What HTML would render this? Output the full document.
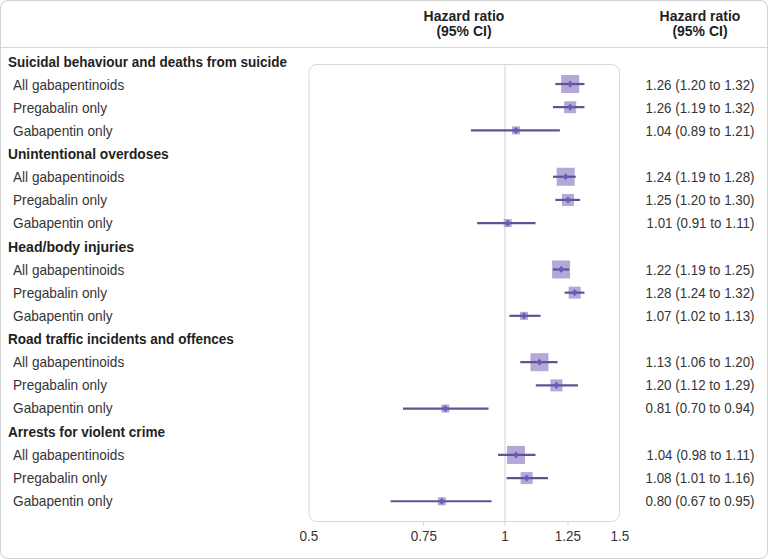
<!DOCTYPE html>
<html><head><meta charset="utf-8"><style>
html,body{margin:0;padding:0;background:#fff;}
body{width:768px;height:559px;position:relative;overflow:hidden;font-family:"Liberation Sans",sans-serif;color:#1f1f1f;}
.frame{position:absolute;left:0;top:0;width:766px;height:557px;border:1px solid #d4d4d4;border-bottom-color:#d0d0d4;border-radius:8px;}
.hdrline{position:absolute;left:1px;top:47px;width:766px;height:1px;background:#d8d8d8;}
.hd{position:absolute;top:9px;width:120px;text-align:center;font-weight:bold;font-size:14.5px;line-height:15px;transform:scaleX(0.964);}
.h{position:absolute;left:7.5px;font-weight:bold;font-size:14.5px;line-height:20px;white-space:nowrap;transform:scaleX(0.934);transform-origin:0 0;}
.s{position:absolute;left:13px;color:#353535;font-size:14.5px;line-height:20px;white-space:nowrap;transform:scaleX(0.94);transform-origin:0 0;}
.ci{position:absolute;right:13.5px;color:#353535;font-size:14.5px;line-height:20px;white-space:nowrap;text-align:right;transform:scaleX(0.919);transform-origin:100% 0;}
.tk{position:absolute;top:526px;color:#353535;width:60px;text-align:center;font-size:14.5px;line-height:20px;transform:scaleX(0.93);}
svg{position:absolute;left:0;top:0;}
</style></head><body>
<div class="frame"></div>
<div class="hdrline"></div>
<div class="hd" style="left:404px">Hazard ratio<br>(95% CI)</div>
<div class="hd" style="left:640px">Hazard ratio<br>(95% CI)</div>
<svg width="768" height="559" viewBox="0 0 768 559">
<rect x="309" y="64.5" width="310.5" height="457" rx="8" ry="8" fill="none" stroke="#d8d8d8" stroke-width="1"/>
<line x1="505" y1="65" x2="505" y2="521" stroke="#d0d0d0" stroke-width="1"/>
<line x1="423.60" y1="521" x2="423.60" y2="526" stroke="#d8d8d8" stroke-width="1"/><line x1="504.90" y1="521" x2="504.90" y2="526" stroke="#d8d8d8" stroke-width="1"/><line x1="567.97" y1="521" x2="567.97" y2="526" stroke="#d8d8d8" stroke-width="1"/>
<rect x="561.22" y="75.03" width="18" height="18" fill="#b3a8d7"/><line x1="556.43" y1="84.03" x2="583.37" y2="84.03" stroke="#5f5492" stroke-width="2.2" stroke-linecap="square"/><path d="M567.22 84.03 L570.22 80.43 L573.22 84.03 L570.22 87.63 Z" fill="#6b5bbb"/><rect x="564.22" y="101.21" width="12" height="12" fill="#b3a8d7"/><line x1="554.07" y1="107.21" x2="583.37" y2="107.21" stroke="#5f5492" stroke-width="2.2" stroke-linecap="square"/><path d="M567.22 107.21 L570.22 103.61 L573.22 107.21 L570.22 110.81 Z" fill="#6b5bbb"/><rect x="511.99" y="126.39" width="8" height="8" fill="#b3a8d7"/><line x1="471.97" y1="130.39" x2="558.78" y2="130.39" stroke="#5f5492" stroke-width="2.2" stroke-linecap="square"/><path d="M512.99 130.39 L515.99 126.79 L518.99 130.39 L515.99 133.99 Z" fill="#6b5bbb"/><rect x="556.70" y="167.75" width="18" height="18" fill="#b3a8d7"/><line x1="554.07" y1="176.75" x2="574.67" y2="176.75" stroke="#5f5492" stroke-width="2.2" stroke-linecap="square"/><path d="M562.70 176.75 L565.70 173.15 L568.70 176.75 L565.70 180.35 Z" fill="#6b5bbb"/><rect x="561.97" y="193.93" width="12" height="12" fill="#b3a8d7"/><line x1="556.43" y1="199.93" x2="579.06" y2="199.93" stroke="#5f5492" stroke-width="2.2" stroke-linecap="square"/><path d="M564.97 199.93 L567.97 196.33 L570.97 199.93 L567.97 203.53 Z" fill="#6b5bbb"/><rect x="503.72" y="219.11" width="8" height="8" fill="#b3a8d7"/><line x1="478.25" y1="223.11" x2="534.40" y2="223.11" stroke="#5f5492" stroke-width="2.2" stroke-linecap="square"/><path d="M504.72 223.11 L507.72 219.51 L510.72 223.11 L507.72 226.71 Z" fill="#6b5bbb"/><rect x="552.10" y="260.47" width="18" height="18" fill="#b3a8d7"/><line x1="554.07" y1="269.47" x2="567.97" y2="269.47" stroke="#5f5492" stroke-width="2.2" stroke-linecap="square"/><path d="M558.10 269.47 L561.10 265.87 L564.10 269.47 L561.10 273.07 Z" fill="#6b5bbb"/><rect x="568.67" y="286.65" width="12" height="12" fill="#b3a8d7"/><line x1="565.70" y1="292.65" x2="583.37" y2="292.65" stroke="#5f5492" stroke-width="2.2" stroke-linecap="square"/><path d="M571.67 292.65 L574.67 289.05 L577.67 292.65 L574.67 296.25 Z" fill="#6b5bbb"/><rect x="520.03" y="311.83" width="8" height="8" fill="#b3a8d7"/><line x1="510.50" y1="315.83" x2="539.45" y2="315.83" stroke="#5f5492" stroke-width="2.2" stroke-linecap="square"/><path d="M521.03 315.83 L524.03 312.23 L527.03 315.83 L524.03 319.43 Z" fill="#6b5bbb"/><rect x="530.45" y="353.19" width="18" height="18" fill="#b3a8d7"/><line x1="521.37" y1="362.19" x2="556.43" y2="362.19" stroke="#5f5492" stroke-width="2.2" stroke-linecap="square"/><path d="M536.45 362.19 L539.45 358.59 L542.45 362.19 L539.45 365.79 Z" fill="#6b5bbb"/><rect x="550.43" y="379.37" width="12" height="12" fill="#b3a8d7"/><line x1="536.93" y1="385.37" x2="576.87" y2="385.37" stroke="#5f5492" stroke-width="2.2" stroke-linecap="square"/><path d="M553.43 385.37 L556.43 381.77 L559.43 385.37 L556.43 388.97 Z" fill="#6b5bbb"/><rect x="441.35" y="404.55" width="8" height="8" fill="#b3a8d7"/><line x1="404.10" y1="408.55" x2="487.42" y2="408.55" stroke="#5f5492" stroke-width="2.2" stroke-linecap="square"/><path d="M442.35 408.55 L445.35 404.95 L448.35 408.55 L445.35 412.15 Z" fill="#6b5bbb"/><rect x="506.99" y="445.91" width="18" height="18" fill="#b3a8d7"/><line x1="499.19" y1="454.91" x2="534.40" y2="454.91" stroke="#5f5492" stroke-width="2.2" stroke-linecap="square"/><path d="M512.99 454.91 L515.99 451.31 L518.99 454.91 L515.99 458.51 Z" fill="#6b5bbb"/><rect x="520.66" y="472.09" width="12" height="12" fill="#b3a8d7"/><line x1="507.72" y1="478.09" x2="546.85" y2="478.09" stroke="#5f5492" stroke-width="2.2" stroke-linecap="square"/><path d="M523.66 478.09 L526.66 474.49 L529.66 478.09 L526.66 481.69 Z" fill="#6b5bbb"/><rect x="437.84" y="497.27" width="8" height="8" fill="#b3a8d7"/><line x1="391.72" y1="501.27" x2="490.41" y2="501.27" stroke="#5f5492" stroke-width="2.2" stroke-linecap="square"/><path d="M438.84 501.27 L441.84 497.67 L444.84 501.27 L441.84 504.87 Z" fill="#6b5bbb"/>
</svg>
<div class="h" style="top:51.65px;transform:scaleX(0.9307)">Suicidal behaviour and deaths from suicide</div><div class="s" style="top:74.77px;transform:scaleX(0.9383)">All gabapentinoids</div><div class="ci" style="top:74.77px">1.26 (1.20 to 1.32)</div><div class="s" style="top:97.89px;transform:scaleX(0.9400)">Pregabalin only</div><div class="ci" style="top:97.89px">1.26 (1.19 to 1.32)</div><div class="s" style="top:121.01px;transform:scaleX(0.9429)">Gabapentin only</div><div class="ci" style="top:121.01px">1.04 (0.89 to 1.21)</div><div class="h" style="top:144.13px;transform:scaleX(0.9501)">Unintentional overdoses</div><div class="s" style="top:167.25px;transform:scaleX(0.9383)">All gabapentinoids</div><div class="ci" style="top:167.25px">1.24 (1.19 to 1.28)</div><div class="s" style="top:190.37px;transform:scaleX(0.9400)">Pregabalin only</div><div class="ci" style="top:190.37px">1.25 (1.20 to 1.30)</div><div class="s" style="top:213.49px;transform:scaleX(0.9429)">Gabapentin only</div><div class="ci" style="top:213.49px">1.01 (0.91 to 1.11)</div><div class="h" style="top:236.61px;transform:scaleX(0.9729)">Head/body injuries</div><div class="s" style="top:259.73px;transform:scaleX(0.9383)">All gabapentinoids</div><div class="ci" style="top:259.73px">1.22 (1.19 to 1.25)</div><div class="s" style="top:282.85px;transform:scaleX(0.9400)">Pregabalin only</div><div class="ci" style="top:282.85px">1.28 (1.24 to 1.32)</div><div class="s" style="top:305.97px;transform:scaleX(0.9429)">Gabapentin only</div><div class="ci" style="top:305.97px">1.07 (1.02 to 1.13)</div><div class="h" style="top:329.09px;transform:scaleX(0.9344)">Road traffic incidents and offences</div><div class="s" style="top:352.21px;transform:scaleX(0.9383)">All gabapentinoids</div><div class="ci" style="top:352.21px">1.13 (1.06 to 1.20)</div><div class="s" style="top:375.33px;transform:scaleX(0.9400)">Pregabalin only</div><div class="ci" style="top:375.33px">1.20 (1.12 to 1.29)</div><div class="s" style="top:398.45px;transform:scaleX(0.9429)">Gabapentin only</div><div class="ci" style="top:398.45px">0.81 (0.70 to 0.94)</div><div class="h" style="top:421.57px;transform:scaleX(0.9370)">Arrests for violent crime</div><div class="s" style="top:444.69px;transform:scaleX(0.9383)">All gabapentinoids</div><div class="ci" style="top:444.69px">1.04 (0.98 to 1.11)</div><div class="s" style="top:467.81px;transform:scaleX(0.9400)">Pregabalin only</div><div class="ci" style="top:467.81px">1.08 (1.01 to 1.16)</div><div class="s" style="top:490.93px;transform:scaleX(0.9429)">Gabapentin only</div><div class="ci" style="top:490.93px">0.80 (0.67 to 0.95)</div>
<div class="tk" style="left:279.00px">0.5</div><div class="tk" style="left:393.60px">0.75</div><div class="tk" style="left:474.90px">1</div><div class="tk" style="left:537.97px">1.25</div><div class="tk" style="left:589.50px">1.5</div>
</body></html>
